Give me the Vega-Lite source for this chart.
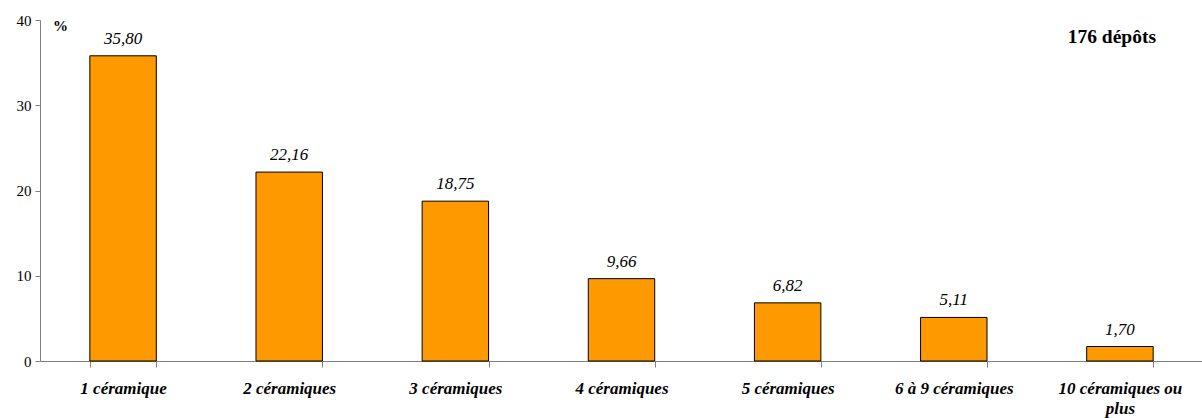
{
  "$schema": "https://vega.github.io/schema/vega-lite/v6.json",
  "width": 1163,
  "height": 341,
  "autosize": {"type": "none"},
  "padding": {"left": 40, "top": 20, "right": 0, "bottom": 57},
  "background": "white",
  "title": {"text": "176 dépôts", "anchor": "end", "font": "Liberation Serif", "fontSize": 19.5, "fontWeight": "bold", "color": "black", "dx": -47, "dy": 34, "offset": 0},
  "data": {"values": [
    {"cat": "1 céramique", "pct": 35.80},
    {"cat": "2 céramiques", "pct": 22.16},
    {"cat": "3 céramiques", "pct": 18.75},
    {"cat": "4 céramiques", "pct": 9.66},
    {"cat": "5 céramiques", "pct": 6.82},
    {"cat": "6 à 9 céramiques", "pct": 5.11},
    {"cat": "10 céramiques ou plus", "pct": 1.70}
  ]},
  "encoding": {
    "x": {"field": "cat", "type": "nominal", "sort": null,
      "scale": {"paddingInner": 0.6, "paddingOuter": 0.3},
      "axis": {"title": null, "labelAngle": 0, "tickBand": "extent", "labelFont": "Liberation Serif", "labelFontSize": 17, "labelFontWeight": "bold", "labelFontStyle": "italic", "labelColor": "black", "labelBaseline": "alphabetic", "labelPadding": 26, "labelLineHeight": 20,
        "labelExpr": "datum.label == '10 céramiques ou plus' ? ['10 céramiques ou', 'plus'] : datum.label",
        "domainColor": "#808080", "tickColor": "#808080", "tickSize": 6, "labelBound": false, "labelOverlap": false}},
    "y": {"field": "pct", "type": "quantitative",
      "scale": {"domain": [0, 40]},
      "axis": {"values": [0, 10, 20, 30, 40], "grid": false, "title": "%", "titleAngle": 0, "titleX": 20, "titleY": 5, "titleAlign": "center", "titleBaseline": "middle", "titleFont": "Liberation Serif", "titleFontSize": 15, "titleFontWeight": "bold", "titleColor": "black",
        "labelFont": "Liberation Serif", "labelFontSize": 15, "labelColor": "black", "labelPadding": 4, "domainColor": "#808080", "tickColor": "#808080", "tickSize": 5}}
  },
  "layer": [
    {"mark": {"type": "bar", "fill": "#FF9900", "stroke": "black", "strokeWidth": 1}},
    {"mark": {"type": "text", "dy": -12, "baseline": "alphabetic", "font": "Liberation Serif", "fontSize": 17, "fontStyle": "italic", "color": "black"},
     "encoding": {"text": {"field": "pct", "type": "quantitative", "format": ".2f"}}}
  ],
  "config": {
    "view": {"stroke": null},
    "locale": {"number": {"decimal": ",", "thousands": " ", "grouping": [3], "currency": ["", " €"]}}
  }
}
